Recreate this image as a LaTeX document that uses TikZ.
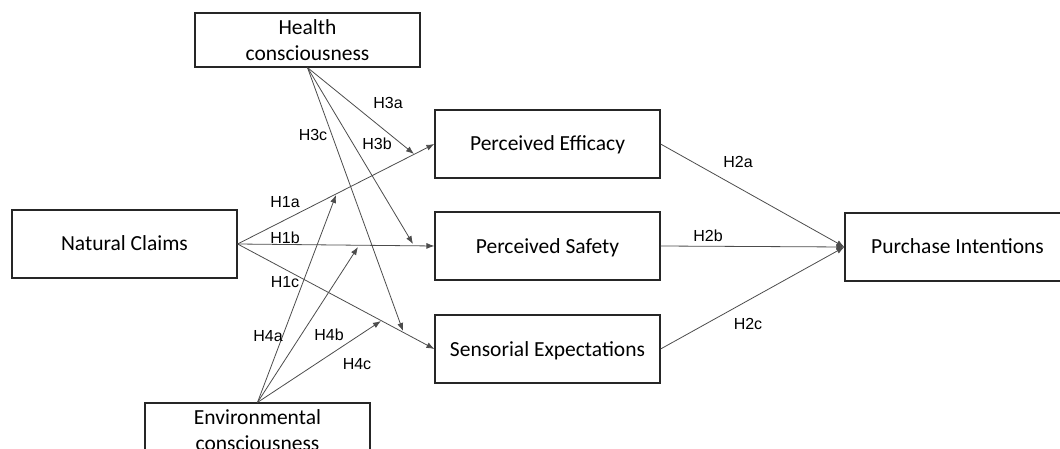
\documentclass[tikz,border=0pt]{standalone}
\usepackage{fontspec}
\setmainfont{Carlito}
\newfontfamily\arialfont{Liberation Sans}
\usetikzlibrary{arrows.meta}

\begin{document}
\begin{tikzpicture}[x=1pt, y=-1pt, >={Latex[length=8pt,width=6pt]},
    frame/.style={draw=black!85, line width=1.2pt, minimum width=225pt, inner sep=0pt, align=center, font=\fontsize{21.5}{26}\selectfont},
    box/.style={frame, minimum height=68pt, text height=14pt, text depth=0pt},
    mbox/.style={frame, minimum height=54pt},
    hyp/.style={inner sep=0pt, font=\arialfont\fontsize{16}{18}\selectfont},
    link/.style={->, draw=black!70, line width=0.8pt}]
            \clip (0,0) rectangle (1060,449);
            \node[mbox](hc) at (307.5,40){Health\\consciousness};
            \node[box](nc) at (124.5,244){Natural Claims};
            \node[box](pe) at (547.5,144){Perceived Efficacy};
            \node[box](ps) at (547.5,246){Perceived Safety};
            \node[box](se) at (547.5,349){Sensorial Expectations};
            \node[box](pi) at (957.5,247){Purchase Intentions};
            \node[mbox](ec) at (257.5,430){Environmental\\consciousness};
            \coordinate (t3a) at (414,154);
            \coordinate (t3b) at (413,244);
            \coordinate (t3c) at (403,331);
            \coordinate (t4a) at (336,195);
            \coordinate (t4b) at (358,247);
            \coordinate (t4c) at (381,321);
            \path (nc.east) edge[link] (pe.west);
            \path (nc.east) edge[link] (ps.west);
            \path (nc.east) edge[link] (se.west);
            \path (pe.east) edge[link] (pi.west);
            \path (ps.east) edge[link] (pi.west);
            \path (se.east) edge[link] (pi.west);
            \path (hc.south) edge[link] (t3a);
            \path (hc.south) edge[link] (t3b);
            \path (hc.south) edge[link] (t3c);
            \path (ec.north) edge[link] (t4a);
            \path (ec.north) edge[link] (t4b);
            \path (ec.north) edge[link] (t4c);
            \node[hyp](h1a) at (285,202){H1a};
            \node[hyp](h1b) at (285,238){H1b};
            \node[hyp](h1c) at (285,282){H1c};
            \node[hyp](h2a) at (738,162){H2a};
            \node[hyp](h2b) at (708,236){H2b};
            \node[hyp](h2c) at (748,324){H2c};
            \node[hyp](h3a) at (388,103){H3a};
            \node[hyp](h3b) at (377,144){H3b};
            \node[hyp](h3c) at (313,135){H3c};
            \node[hyp](h4a) at (268,336){H4a};
            \node[hyp](h4b) at (329,335){H4b};
            \node[hyp](h4c) at (357,364){H4c};
\end{tikzpicture}
\end{document}
